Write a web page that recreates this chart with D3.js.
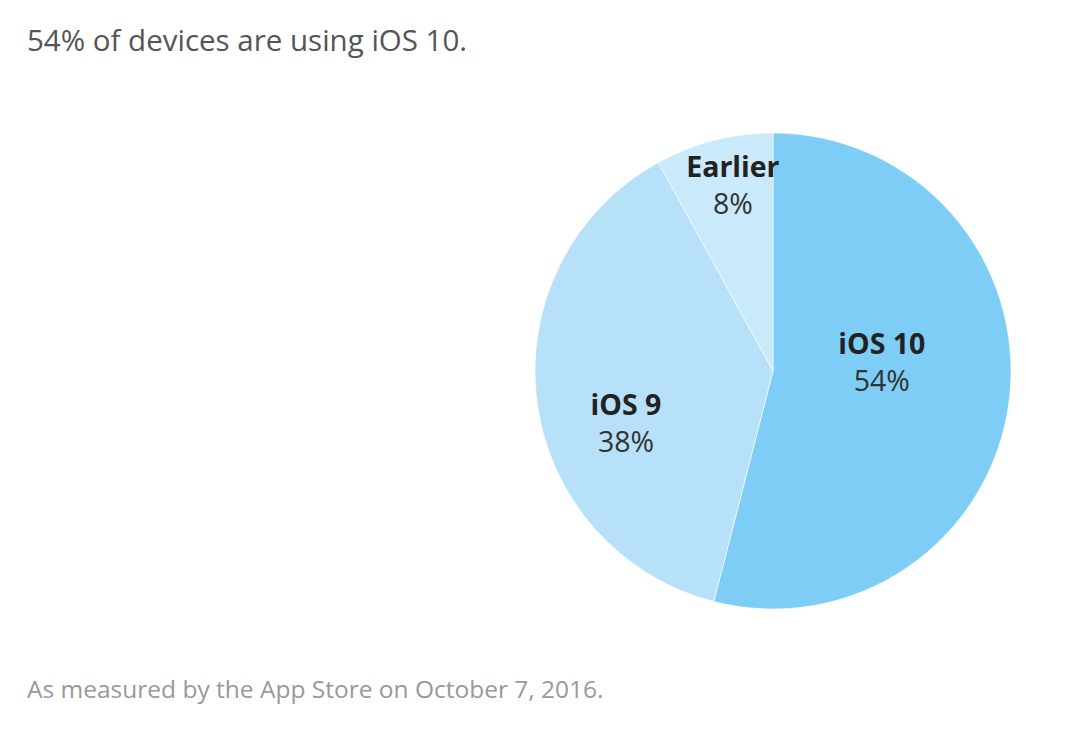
<!DOCTYPE html>
<html><head><meta charset="utf-8">
<script src="https://cdn.jsdelivr.net/npm/d3@7"></script>
<style>body{margin:0;background:#fff;}svg{display:block;}</style>
</head><body>
<svg id="c" width="1070" height="738"></svg>
<script>
const categories = ["iOS 10", "iOS 9", "Earlier"];
const values = [54, 38, 8];
const colors = ["#7ecdf7", "#b7e1f9", "#cae9fb"];
const title = "54% of devices are using iOS 10.";
const footnote = "As measured by the App Store on October 7, 2016.";

const svg = d3.select("#c");
const font = "'Open Sans', 'Noto Sans', sans-serif";
const cx = 773, cy = 371, r = 238;

svg.append("text").attr("x", 27).attr("y", 51).attr("font-family", font)
  .attr("font-size", 29.5).attr("fill", "#555").text(title);
svg.append("text").attr("x", 27).attr("y", 698).attr("font-family", font)
  .attr("font-size", 24.5).attr("fill", "#999").text(footnote);

const data = categories.map((c, i) => ({cat: c, value: values[i], color: colors[i]}));
const pie = d3.pie().value(d => d.value).sort(null);
const arc = d3.arc().innerRadius(0).outerRadius(r);
const arcs = pie(data);
const g = svg.append("g").attr("transform", `translate(${cx},${cy})`);
g.selectAll("path").data(arcs).join("path")
  .attr("d", arc).attr("fill", d => d.data.color)
  .attr("stroke", "#fff").attr("stroke-width", 0.6);

// label anchor (radius fraction, angle shift from slice mid in degrees)
const labelLayout = [[0.463, -16.1], [0.645, -9.5], [0.832, 2.7]];
arcs.forEach((a, i) => {
  const mid = (a.startAngle + a.endAngle) / 2 + labelLayout[i][1] * Math.PI / 180;
  const rr = r * labelLayout[i][0];
  const x = rr * Math.sin(mid), y = -rr * Math.cos(mid);
  const t = g.append("text").attr("text-anchor", "middle").attr("font-family", font)
    .attr("font-size", 28.5).attr("fill", "#222");
  t.append("tspan").attr("x", x).attr("y", y).attr("font-weight", "bold").text(a.data.cat);
  t.append("tspan").attr("x", x).attr("y", y + 37).attr("fill", "#333").text(a.data.value + "%");
});
</script>
</body></html>
